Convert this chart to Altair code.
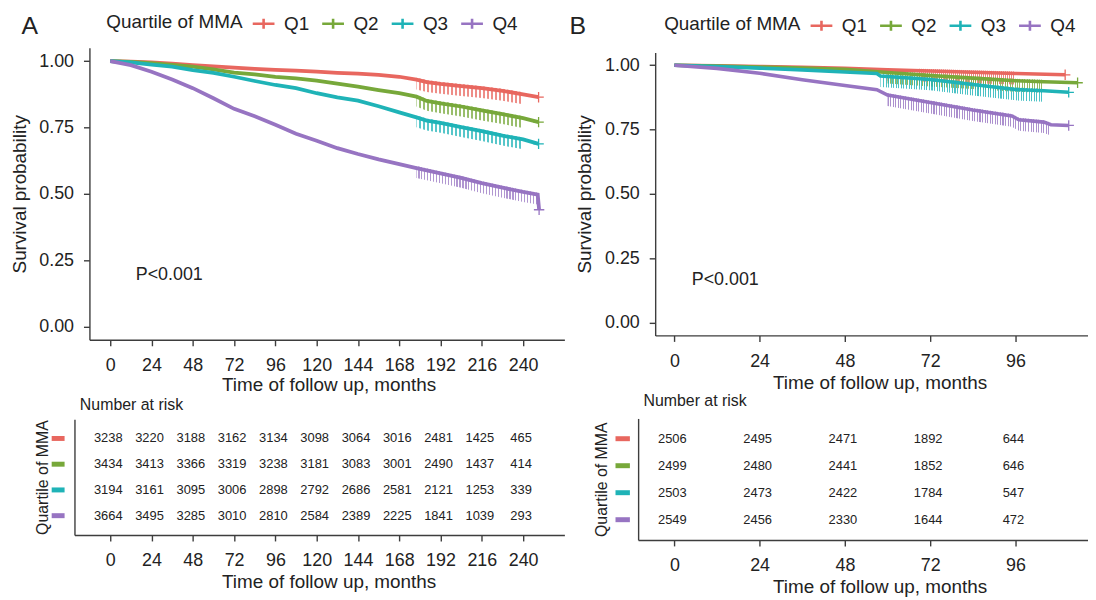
import altair as alt
import pandas as pd

GROUPS = ["Q1", "Q2", "Q3", "Q4"]
COLORS = ["#E8675F", "#77A83A", "#1FB3B7", "#9774C2"]

# ---------------- Panel A: survival readings ----------------
A_Q1_T = [0, 12, 24, 36, 48, 60, 72, 84, 96, 108, 120, 132, 144, 156, 168, 178, 184, 192, 204, 216, 228, 240, 249]
A_Q1_S = [1.000, 0.998, 0.995, 0.990, 0.985, 0.980, 0.975, 0.971, 0.967, 0.964, 0.960, 0.956, 0.953, 0.948, 0.941, 0.930, 0.921, 0.914, 0.906, 0.898, 0.888, 0.875, 0.864]
A_Q2_T = [0, 12, 24, 36, 48, 60, 72, 84, 96, 108, 120, 132, 144, 156, 168, 178, 184, 192, 204, 216, 228, 240, 249]
A_Q2_S = [1.000, 0.997, 0.992, 0.986, 0.979, 0.969, 0.957, 0.950, 0.941, 0.935, 0.926, 0.915, 0.904, 0.891, 0.879, 0.866, 0.850, 0.841, 0.829, 0.814, 0.800, 0.785, 0.770]
A_Q3_T = [0, 12, 24, 36, 48, 60, 72, 84, 96, 108, 120, 132, 144, 156, 168, 178, 184, 192, 204, 216, 228, 240, 249]
A_Q3_S = [1.000, 0.995, 0.987, 0.979, 0.966, 0.956, 0.941, 0.925, 0.910, 0.898, 0.879, 0.863, 0.851, 0.830, 0.807, 0.788, 0.776, 0.767, 0.751, 0.736, 0.719, 0.705, 0.688]
A_Q4_T = [0, 12, 24, 36, 48, 60, 72, 84, 96, 108, 120, 132, 144, 156, 168, 178, 192, 204, 216, 228, 240, 248.5, 249.3]
A_Q4_S = [1.000, 0.985, 0.960, 0.931, 0.898, 0.860, 0.820, 0.792, 0.760, 0.726, 0.700, 0.672, 0.650, 0.630, 0.612, 0.597, 0.577, 0.560, 0.540, 0.523, 0.507, 0.497, 0.440]
A_CENSOR_FROM = 178

# ---------------- Panel B: survival readings ----------------
B_Q1_T = [0, 12, 24, 36, 48, 60, 72, 84, 96, 110]
B_Q1_S = [1.000, 0.998, 0.995, 0.992, 0.988, 0.982, 0.978, 0.973, 0.968, 0.963]
B_Q2_T = [0, 12, 24, 36, 48, 60, 72, 84, 96, 104, 113.5]
B_Q2_S = [1.000, 0.997, 0.993, 0.989, 0.984, 0.972, 0.960, 0.950, 0.940, 0.936, 0.932]
B_Q3_T = [0, 12, 24, 36, 48, 57, 58, 72, 84, 96, 104, 111]
B_Q3_S = [1.000, 0.995, 0.989, 0.982, 0.974, 0.968, 0.958, 0.945, 0.925, 0.906, 0.901, 0.895]
B_Q4_T = [0, 12, 24, 36, 48, 57, 60, 72, 84, 95, 97, 104, 106, 111]
B_Q4_S = [1.000, 0.988, 0.969, 0.944, 0.921, 0.905, 0.884, 0.855, 0.826, 0.803, 0.788, 0.779, 0.769, 0.766]
B_CENSOR_FROM = 58

# ---------------- Number at risk ----------------
A_RISK_T = [0, 24, 48, 72, 96, 120, 144, 168, 192, 216, 240]
A_RISK_Q1 = [3238, 3220, 3188, 3162, 3134, 3098, 3064, 3016, 2481, 1425, 465]
A_RISK_Q2 = [3434, 3413, 3366, 3319, 3238, 3181, 3083, 3001, 2490, 1437, 414]
A_RISK_Q3 = [3194, 3161, 3095, 3006, 2898, 2792, 2686, 2581, 2121, 1253, 339]
A_RISK_Q4 = [3664, 3495, 3285, 3010, 2810, 2584, 2389, 2225, 1841, 1039, 293]
B_RISK_T = [0, 24, 48, 72, 96]
B_RISK_Q1 = [2506, 2495, 2471, 1892, 644]
B_RISK_Q2 = [2499, 2480, 2441, 1852, 646]
B_RISK_Q3 = [2503, 2473, 2422, 1784, 547]
B_RISK_Q4 = [2549, 2456, 2330, 1644, 472]

A_TICKS = [0, 24, 48, 72, 96, 120, 144, 168, 192, 216, 240]
B_TICKS = [0, 24, 48, 72, 96]
Y_TICKS = [0, 0.25, 0.5, 0.75, 1.0]


def km_frame(ts_list, ss_list):
    rows = []
    for g, ts, ss in zip(GROUPS, ts_list, ss_list):
        for t, s in zip(ts, ss):
            rows.append({"group": g, "t": t, "s": s})
    return pd.DataFrame(rows)


def risk_frame(times, lists):
    rows = []
    for g, ns in zip(GROUPS, lists):
        for t, n in zip(times, ns):
            rows.append({"group": g, "t": t, "n": n})
    return pd.DataFrame(rows)


kmA = km_frame([A_Q1_T, A_Q2_T, A_Q3_T, A_Q4_T], [A_Q1_S, A_Q2_S, A_Q3_S, A_Q4_S])
kmB = km_frame([B_Q1_T, B_Q2_T, B_Q3_T, B_Q4_T], [B_Q1_S, B_Q2_S, B_Q3_S, B_Q4_S])
riskA = risk_frame(A_RISK_T, [A_RISK_Q1, A_RISK_Q2, A_RISK_Q3, A_RISK_Q4])
riskB = risk_frame(B_RISK_T, [B_RISK_Q1, B_RISK_Q2, B_RISK_Q3, B_RISK_Q4])
groups_df = pd.DataFrame({"group": GROUPS})

# ---------------- layout (canvas pixels) ----------------
W, H = 1088, 592
FONT = "Liberation Sans"
INK = "#222222"
AXC = "#3d3d3d"


def lin_range(x0, k, dom):
    return [x0 + k * dom[0], x0 + k * dom[1]]


Y_DOM = [-0.05, 1.05]
A_X0, A_KX, A_XDOM = 103.0, 1.733, [-12.1, 264]
A_Y0, A_KY = 318.7, 267.4
A_XR = lin_range(A_X0, A_KX, A_XDOM)
A_YR = [A_Y0 - A_KY * Y_DOM[0], A_Y0 - A_KY * Y_DOM[1]]
TA_XDOM = [-20.8, 264]
TA_XR = lin_range(A_X0, A_KX, TA_XDOM)
TA_YR = [412.0, 528.7]
B_X0, B_KX, B_XDOM = 671.3, 3.579, [-5.4, 120.8]
B_Y0, B_KY = 314.7, 259.2
B_XR = lin_range(B_X0, B_KX, B_XDOM)
B_YR = [B_Y0 - B_KY * Y_DOM[0], B_Y0 - B_KY * Y_DOM[1]]
TB_XDOM = [-10.2, 120.8]
TB_XR = lin_range(B_X0, B_KX, TB_XDOM)
TB_YR = [411.3, 533.7]

color_scale = alt.Scale(domain=GROUPS, range=COLORS)
CROSS = "M-1,0H1M0,-1V1"
LEG_SYMBOL = "M-1,0H1M0,-0.45V0.45"


def stripes(color, n, duty=0.42):
    """Vertical hairline stripes (censor ticks) as a hard-stop gradient."""
    stops = []
    for i in range(n):
        a = i / n
        b = (i + duty) / n
        c = (i + 1) / n
        stops += [alt.GradientStop(color=color, offset=a),
                  alt.GradientStop(color=color, offset=b),
                  alt.GradientStop(color="rgba(255,255,255,0)", offset=b),
                  alt.GradientStop(color="rgba(255,255,255,0)", offset=c)]
    return alt.Gradient(gradient="linear", stops=stops, x1=0, x2=1, y1=0, y2=0)


def ax(**kw):
    base = dict(domainColor=AXC, domainWidth=1.4, tickColor=AXC, tickWidth=1.4, tickSize=6,
                labelColor=INK, labelFontSize=18, labelFont=FONT, titleColor=INK,
                titleFontSize=19, titleFont=FONT, titleFontWeight="normal", grid=False,
                labelFlush=False, labelOverlap=False)
    base.update(kw)
    return alt.Axis(**base)


def legend(x, y):
    return alt.Legend(title="Quartile of MMA", orient="none", legendX=x, legendY=y,
                      direction="horizontal", titleOrient="left", titleFontSize=19,
                      titleFontWeight="normal", titleColor=INK, titleFont=FONT,
                      titleBaseline="middle", titleAnchor="middle",
                      labelFontSize=19, labelColor=INK, labelFont=FONT,
                      symbolType=LEG_SYMBOL, symbolSize=480, symbolStrokeWidth=2.6,
                      labelOffset=8, columnPadding=7, titlePadding=8)


def km_layers(df, xdom, xr, yr, censor_from, xaxis, yaxis, leg, lw, n_stripes, tick_len, fringe_op):
    xs = alt.Scale(domain=xdom, range=xr, nice=False, zero=False)
    ys = alt.Scale(domain=Y_DOM, range=yr, nice=False, zero=False)
    out = []
    for g, c in zip(GROUPS, COLORS):
        fr = alt.Chart(df).transform_filter(alt.datum.group == g).transform_joinaggregate(
            tmax="max(t)"
        ).transform_filter(
            (alt.datum.t >= censor_from) & (alt.datum.t < alt.datum.tmax - 0.5)
        ).mark_area(fill=stripes(c, n_stripes), opacity=fringe_op, yOffset=-2,
                    y2Offset=tick_len).encode(
            x=alt.X("t:Q", scale=xs, axis=None),
            y=alt.Y("s:Q", scale=ys, axis=None),
            y2=alt.Y2("s"),
        )
        out.append(fr)
    line = alt.Chart(df).mark_line(strokeWidth=lw).encode(
        x=alt.X("t:Q", scale=xs, axis=xaxis),
        y=alt.Y("s:Q", scale=ys, axis=yaxis),
        color=alt.Color("group:N", scale=color_scale, legend=leg),
    )
    ends = alt.Chart(df).transform_joinaggregate(
        tmax="max(t)", groupby=["group"]
    ).transform_filter("datum.t == datum.tmax").mark_point(
        shape=CROSS, size=110, filled=False, strokeWidth=1.3, opacity=1
    ).encode(
        x=alt.X("t:Q", scale=xs, axis=None),
        y=alt.Y("s:Q", scale=ys, axis=None),
        color=alt.Color("group:N", scale=color_scale, legend=None),
    )
    return out + [line, ends]


def table_layers(df, xdom, xr, yr, xaxis, yaxis, sw_x, sw_x2):
    xs = alt.Scale(domain=xdom, range=xr, nice=False, zero=False)
    ys = alt.Scale(type="point", domain=GROUPS, range=yr, padding=0.75)
    nums = alt.Chart(df).mark_text(fontSize=13, color=INK, font=FONT, dx=-2).encode(
        x=alt.X("t:Q", scale=xs, axis=xaxis),
        y=alt.Y("group:N", scale=ys, axis=yaxis),
        text=alt.Text("n:Q", format="d"),
    )
    sw = alt.Chart(groups_df).mark_rule(strokeWidth=5).encode(
        x=alt.value(sw_x), x2=alt.value(sw_x2),
        y=alt.Y("group:N", scale=ys, axis=None),
        color=alt.Color("group:N", scale=color_scale, legend=None),
    )
    return [nums, sw]


def label(text, x, y, size, align="left", baseline="middle"):
    return alt.Chart(pd.DataFrame({"label": [text]})).mark_text(
        fontSize=size, font=FONT, color=INK, align=align, baseline=baseline
    ).encode(text="label:N", x=alt.value(x), y=alt.value(y))


axXA = ax(orient="bottom", offset=A_YR[0] - H, values=A_TICKS, title="Time of follow up, months",
          labelPadding=11, titleX=323, titleY=45, titleBaseline="middle")
axYA = ax(orient="left", offset=-A_XR[0], values=Y_TICKS, format=".2f", title="Survival probability",
          labelPadding=10, titleX=-70, titleBaseline="middle")
axXTA = ax(orient="bottom", offset=TA_YR[1] - H, values=A_TICKS, title="Time of follow up, months",
           labelPadding=11, titleX=323, titleY=47, titleBaseline="middle")
axYTA = ax(orient="left", offset=-TA_XR[0], labels=False, ticks=False, title="Quartile of MMA",
           titleFontSize=16, titleX=-32, titleBaseline="middle")

axXB = ax(orient="bottom", offset=B_YR[0] - H, values=B_TICKS, title="Time of follow up, months",
          labelPadding=11, titleX=878, titleY=47, titleBaseline="middle")
axYB = ax(orient="left", offset=-B_XR[0], values=Y_TICKS, format=".2f", title="Survival probability",
          labelPadding=10, titleX=-71, titleBaseline="middle")
axXTB = ax(orient="bottom", offset=TB_YR[1] - H, values=B_TICKS, title="Time of follow up, months",
           labelPadding=11, titleX=878, titleY=47, titleBaseline="middle")
axYTB = ax(orient="left", offset=-TB_XR[0], labels=False, ticks=False, title="Quartile of MMA",
           titleFontSize=16, titleX=-37, titleBaseline="middle")

layers = []
layers += km_layers(kmA, A_XDOM, A_XR, A_YR, A_CENSOR_FROM, axXA, axYA, legend(99, 1),
                    3.8, 80, 10, 0.75)
layers += km_layers(kmB, B_XDOM, B_XR, B_YR, B_CENSOR_FROM, axXB, axYB, legend(661, 3),
                    3.6, 64, 11, 0.8)
layers += table_layers(riskA, TA_XDOM, TA_XR, TA_YR, axXTA, axYTA, 44, 57)
layers += table_layers(riskB, TB_XDOM, TB_XR, TB_YR, axXTB, axYTB, 612, 626.5)
layers += [
    label("A", 13.5, 23.7, 25, baseline="alphabetic"),
    label("B", 565.7, 23.7, 25, baseline="alphabetic"),
    label("P<0.001", 128.7, 267, 18),
    label("P<0.001", 688.8, 272, 18),
    label("Number at risk", 72.4, 398, 16),
    label("Number at risk", 640.2, 393.7, 16),
]

chart = alt.layer(*layers).resolve_scale(
    x="independent", y="independent", color="independent"
).resolve_axis(x="independent", y="independent").resolve_legend(color="independent").properties(
    width=W, height=H, autosize=alt.AutoSizeParams(type="none"), padding=0
).configure(font=FONT, background="white").configure_view(stroke=None)

chart.save("out.html", embed_options={"renderer": "svg", "actions": False})
